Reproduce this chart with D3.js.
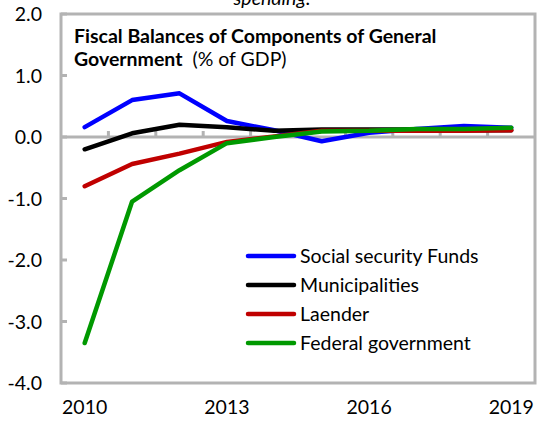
<!DOCTYPE html>
<html>
<head>
<meta charset="utf-8">
<script src="https://cdn.jsdelivr.net/npm/d3@7"></script>
<style>
body { margin: 0; background: #fff; }
svg text { font-family: Lato, "Open Sans", sans-serif; fill: #000; }
</style>
</head>
<body>
<svg id="chart" width="538" height="421"></svg>
<script>
// data
var years = ["2010","2011","2012","2013","2014","2015","2016","2017","2018","2019"];
var yearLabels = ["2010","2013","2016","2019"];
var yTicks = [2, 1, 0, -1, -2, -3, -4];
var socialSecurity = [0.16, 0.60, 0.71, 0.26, 0.11, -0.07, 0.07, 0.13, 0.18, 0.15];
var municipalities = [-0.20, 0.06, 0.20, 0.16, 0.10, 0.12, 0.12, 0.12, 0.11, 0.11];
var laender = [-0.80, -0.44, -0.27, -0.08, 0.01, 0.10, 0.10, 0.10, 0.10, 0.11];
var federal = [-3.35, -1.05, -0.54, -0.10, 0.00, 0.09, 0.10, 0.13, 0.13, 0.15];

var seriesNames = ["Social security Funds", "Municipalities", "Laender", "Federal government"];
var seriesData = [socialSecurity, municipalities, laender, federal];
var seriesColors = ["#0000ff", "#000000", "#c00000", "#009900"];

var svg = d3.select("#chart");
var plotL = 61, plotR = 535, plotT = 14, plotB = 383;
var fs = "19.5px";

var x = d3.scaleBand().domain(years).range([plotL, plotR]);
var y = d3.scaleLinear().domain([-4, 2]).range([plotB, plotT]);

// cut-off text from above the chart
svg.append("text")
    .attr("x", 272).attr("y", 5)
    .attr("text-anchor", "middle")
    .style("font-size", fs)
    .style("font-style", "italic")
    .text("spending.");

// plot frame
svg.append("rect")
    .attr("x", plotL).attr("y", plotT)
    .attr("width", plotR - plotL).attr("height", plotB - plotT)
    .attr("fill", "none")
    .attr("stroke", "#b3b3b3")
    .attr("stroke-width", 3);

// y ticks (inside, from left border)
svg.selectAll(".ytick")
    .data(yTicks)
    .enter()
    .append("line")
    .attr("x1", plotL).attr("x2", plotL + 6)
    .attr("y1", function(d){ return y(d); })
    .attr("y2", function(d){ return y(d); })
    .attr("stroke", "#b3b3b3")
    .attr("stroke-width", 3);

svg.selectAll(".ylab")
    .data(yTicks)
    .enter()
    .append("text")
    .attr("x", 42)
    .attr("y", function(d){ return y(d) + 7; })
    .attr("text-anchor", "end")
    .style("font-size", fs)
    .text(function(d){ return d3.format(".1f")(d).replace("\u2212", "-"); });

// zero line with tick marks between categories
svg.append("line")
    .attr("x1", plotL).attr("x2", plotR)
    .attr("y1", y(0)).attr("y2", y(0))
    .attr("stroke", "#b3b3b3")
    .attr("stroke-width", 3);

svg.selectAll(".xtick")
    .data(years.slice(1))
    .enter()
    .append("line")
    .attr("x1", function(d){ return x(d); })
    .attr("x2", function(d){ return x(d); })
    .attr("y1", y(0)).attr("y2", y(0) - 6)
    .attr("stroke", "#b3b3b3")
    .attr("stroke-width", 3);

svg.selectAll(".xlab")
    .data(yearLabels)
    .enter()
    .append("text")
    .attr("x", function(d){ return x(d) + x.bandwidth() / 2; })
    .attr("y", 414)
    .attr("text-anchor", "middle")
    .style("font-size", fs)
    .text(function(d){ return d; });

// title
svg.append("text")
    .attr("x", 74).attr("y", 43)
    .style("font-size", fs)
    .style("font-weight", "bold")
    .text("Fiscal Balances of Components of General");
var t2 = svg.append("text").attr("x", 74).attr("y", 66).style("font-size", fs);
t2.append("tspan").style("font-weight", "bold").text("Government");
t2.append("tspan").text("\u00a0 (% of GDP)");

// lines
var line = d3.line()
    .x(function(d, i){ return x(years[i]) + x.bandwidth() / 2; })
    .y(function(d){ return y(d); });

svg.selectAll(".series")
    .data(seriesData)
    .enter()
    .append("path")
    .attr("d", line)
    .attr("fill", "none")
    .attr("stroke", function(d, i){ return seriesColors[i]; })
    .attr("stroke-width", 4.5)
    .attr("stroke-linejoin", "round")
    .attr("stroke-linecap", "round");

// legend
var legend = svg.selectAll(".legend")
    .data(seriesNames)
    .enter()
    .append("g")
    .attr("transform", function(d, i){ return "translate(248," + (256 + i * 29) + ")"; });
legend.append("line")
    .attr("x1", 0).attr("x2", 46)
    .attr("stroke", function(d, i){ return seriesColors[i]; })
    .attr("stroke-width", 4.5)
    .attr("stroke-linecap", "round");
legend.append("text")
    .attr("x", 52).attr("y", 7)
    .style("font-size", fs)
    .text(function(d){ return d; });
</script>
</body>
</html>
